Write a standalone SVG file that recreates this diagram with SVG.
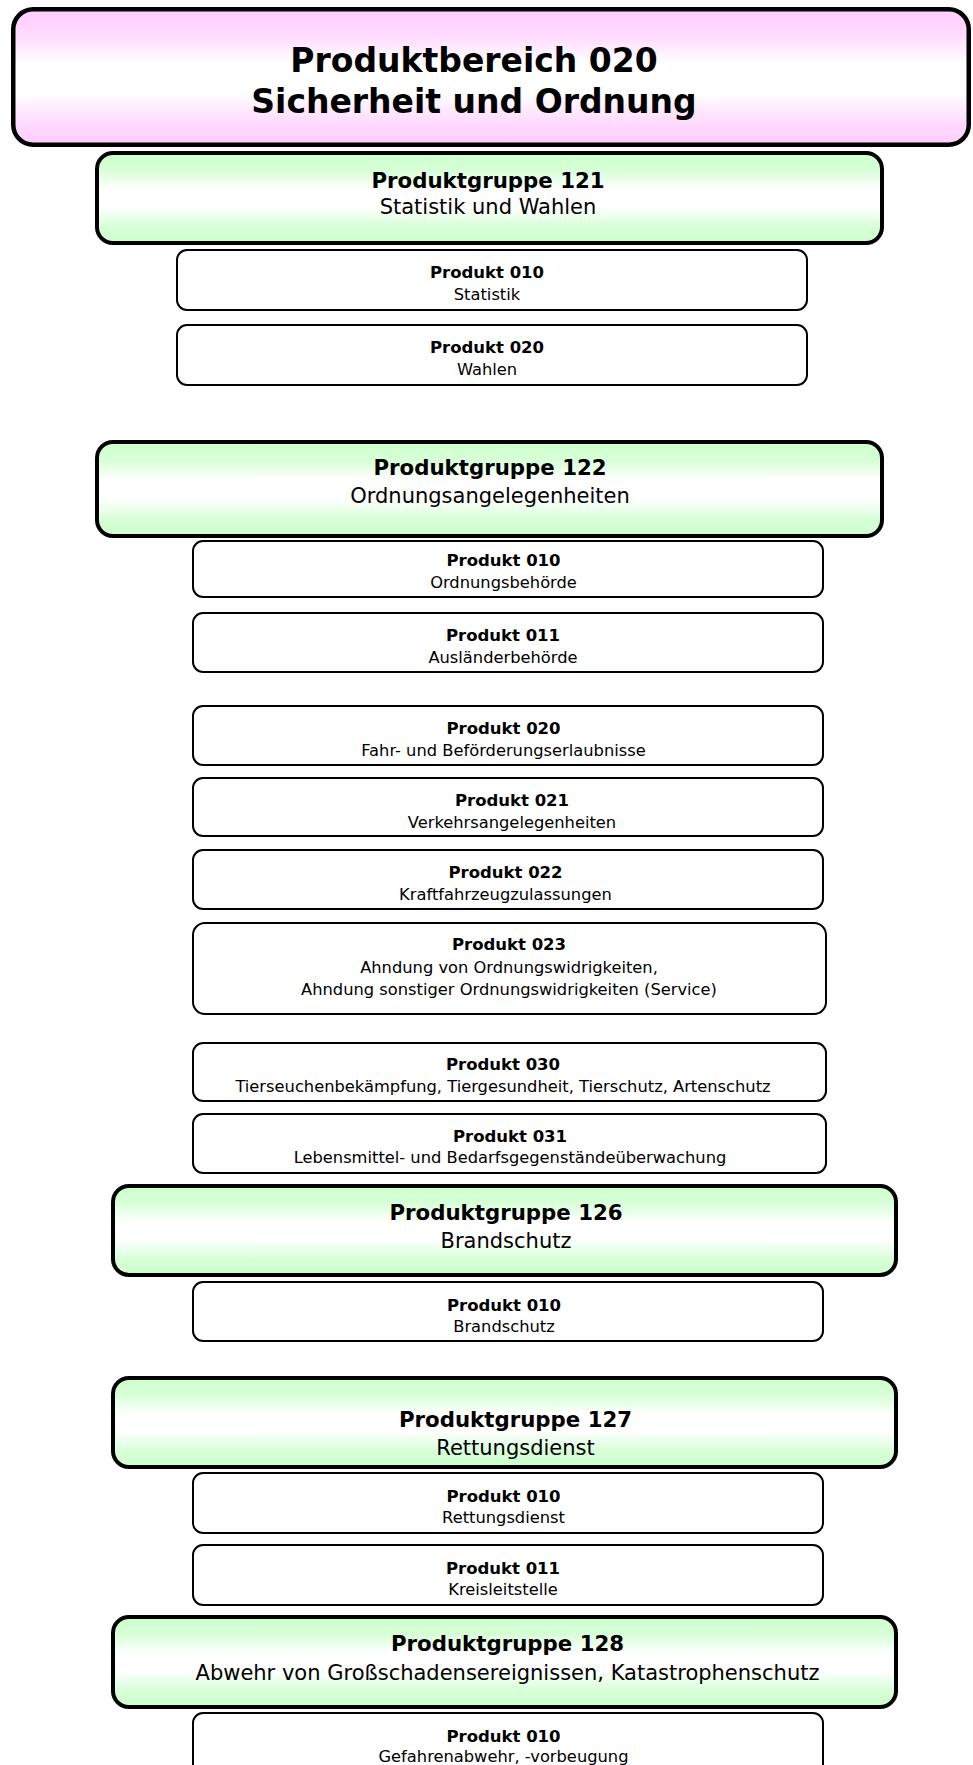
<svg xmlns="http://www.w3.org/2000/svg" width="973" height="1765" viewBox="0 0 973 1765">
<defs>
  <linearGradient id="pink" x1="0" y1="0" x2="0" y2="1">
    <stop offset="0" stop-color="#ffccff"/>
    <stop offset="0.18" stop-color="#ffd8ff"/>
    <stop offset="0.4" stop-color="#ffffff"/>
    <stop offset="0.62" stop-color="#ffffff"/>
    <stop offset="0.85" stop-color="#ffd8ff"/>
    <stop offset="1" stop-color="#ffccff"/>
  </linearGradient>
  <linearGradient id="green" x1="0" y1="0" x2="0" y2="1">
    <stop offset="0" stop-color="#ccffcc"/>
    <stop offset="0.2" stop-color="#d8ffd8"/>
    <stop offset="0.4" stop-color="#ffffff"/>
    <stop offset="0.6" stop-color="#ffffff"/>
    <stop offset="0.82" stop-color="#d8ffd8"/>
    <stop offset="1" stop-color="#ccffcc"/>
  </linearGradient>
</defs>
<style>
  .top{fill:url(#pink);stroke:#000;stroke-width:4.5}
  .grp{fill:url(#green);stroke:#000;stroke-width:4}
  .prd{fill:#fff;stroke:#000;stroke-width:2}
  text{font-family:"DejaVu Sans",Verdana,sans-serif;text-anchor:middle;fill:#000}
  .t1{font-size:33px;font-weight:bold}
  .gb{font-size:21.3px;font-weight:bold}
  .gr{font-size:21px}
  .pb{font-size:16.5px;font-weight:bold}
  .pr{font-size:16.3px}
</style>

<g id="pb020">
  <rect class="top" x="13.25" y="9.25" width="955.5" height="135.5" rx="20"/>
  <text class="t1" x="474" y="72">Produktbereich 020</text>
  <text class="t1" x="474" y="113">Sicherheit und Ordnung</text>
</g>

<g id="pg121">
  <rect class="grp" x="97" y="153" width="785" height="90" rx="16"/>
  <text class="gb" x="488" y="188">Produktgruppe 121</text>
  <text class="gr" x="488" y="214">Statistik und Wahlen</text>
</g>
<g id="p121-010">
  <rect class="prd" x="177" y="250" width="630" height="60" rx="10"/>
  <text class="pb" x="487" y="277.5">Produkt 010</text>
  <text class="pr" x="487" y="300">Statistik</text>
</g>
<g id="p121-020">
  <rect class="prd" x="177" y="325" width="630" height="60" rx="10"/>
  <text class="pb" x="487" y="353">Produkt 020</text>
  <text class="pr" x="487" y="375">Wahlen</text>
</g>

<g id="pg122">
  <rect class="grp" x="97" y="442" width="785" height="94" rx="16"/>
  <text class="gb" x="490" y="475">Produktgruppe 122</text>
  <text class="gr" x="490" y="503">Ordnungsangelegenheiten</text>
</g>
<g id="p122-010">
  <rect class="prd" x="193" y="541" width="630" height="56" rx="10"/>
  <text class="pb" x="503.5" y="566">Produkt 010</text>
  <text class="pr" x="503.5" y="588">Ordnungsbehörde</text>
</g>
<g id="p122-011">
  <rect class="prd" x="193" y="613" width="630" height="59" rx="10"/>
  <text class="pb" x="503" y="641">Produkt 011</text>
  <text class="pr" x="503" y="663">Ausländerbehörde</text>
</g>
<g id="p122-020">
  <rect class="prd" x="193" y="706" width="630" height="59" rx="10"/>
  <text class="pb" x="503.5" y="734">Produkt 020</text>
  <text class="pr" x="503.5" y="756">Fahr- und Beförderungserlaubnisse</text>
</g>
<g id="p122-021">
  <rect class="prd" x="193" y="778" width="630" height="58" rx="10"/>
  <text class="pb" x="512" y="806">Produkt 021</text>
  <text class="pr" x="512" y="828">Verkehrsangelegenheiten</text>
</g>
<g id="p122-022">
  <rect class="prd" x="193" y="850" width="630" height="59" rx="10"/>
  <text class="pb" x="505.5" y="878">Produkt 022</text>
  <text class="pr" x="505.5" y="900">Kraftfahrzeugzulassungen</text>
</g>
<g id="p122-023">
  <rect class="prd" x="193" y="923" width="633" height="91" rx="12"/>
  <text class="pb" x="509" y="950">Produkt 023</text>
  <text class="pr" x="509" y="973">Ahndung von Ordnungswidrigkeiten,</text>
  <text class="pr" x="509" y="995">Ahndung sonstiger Ordnungswidrigkeiten (Service)</text>
</g>
<g id="p122-030">
  <rect class="prd" x="193" y="1043" width="633" height="58" rx="10"/>
  <text class="pb" x="503" y="1070">Produkt 030</text>
  <text class="pr" x="503" y="1092">Tierseuchenbekämpfung, Tiergesundheit, Tierschutz, Artenschutz</text>
</g>
<g id="p122-031">
  <rect class="prd" x="193" y="1114" width="633" height="59" rx="10"/>
  <text class="pb" x="510" y="1142">Produkt 031</text>
  <text class="pr" x="510" y="1163">Lebensmittel- und Bedarfsgegenständeüberwachung</text>
</g>

<g id="pg126">
  <rect class="grp" x="113" y="1186" width="783" height="89" rx="16"/>
  <text class="gb" x="506" y="1219.5">Produktgruppe 126</text>
  <text class="gr" x="506" y="1247.5">Brandschutz</text>
</g>
<g id="p126-010">
  <rect class="prd" x="193" y="1282" width="630" height="59" rx="10"/>
  <text class="pb" x="504" y="1310.5">Produkt 010</text>
  <text class="pr" x="504" y="1331.5">Brandschutz</text>
</g>

<g id="pg127">
  <rect class="grp" x="113" y="1378" width="783" height="89" rx="16"/>
  <text class="gb" x="515.5" y="1427">Produktgruppe 127</text>
  <text class="gr" x="515.5" y="1455">Rettungsdienst</text>
</g>
<g id="p127-010">
  <rect class="prd" x="193" y="1473" width="630" height="60" rx="10"/>
  <text class="pb" x="503.5" y="1501.5">Produkt 010</text>
  <text class="pr" x="503.5" y="1523">Rettungsdienst</text>
</g>
<g id="p127-011">
  <rect class="prd" x="193" y="1545" width="630" height="60" rx="10"/>
  <text class="pb" x="503" y="1574">Produkt 011</text>
  <text class="pr" x="503" y="1595">Kreisleitstelle</text>
</g>

<g id="pg128">
  <rect class="grp" x="113" y="1617" width="783" height="90" rx="16"/>
  <text class="gb" x="507.5" y="1651">Produktgruppe 128</text>
  <text class="gr" x="507.5" y="1679.5">Abwehr von Großschadensereignissen, Katastrophenschutz</text>
</g>
<g id="p128-010">
  <rect class="prd" x="193" y="1713" width="630" height="64" rx="10"/>
  <text class="pb" x="503.5" y="1742">Produkt 010</text>
  <text class="pr" x="503.5" y="1762">Gefahrenabwehr, -vorbeugung</text>
</g>
</svg>
